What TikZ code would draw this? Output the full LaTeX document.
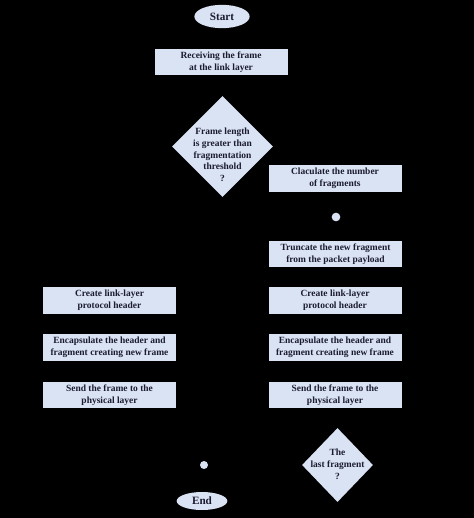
\documentclass[tikz,border=0pt]{standalone}
\usepackage{fontspec}
\setmainfont{Liberation Serif}
\usetikzlibrary{shapes.geometric,arrows.meta}
\definecolor{boxfill}{HTML}{DAE3F3}
\definecolor{txt}{HTML}{1B1B30}
\begin{document}
\begin{tikzpicture}[x=0.75pt,y=-0.75pt,
  every node/.style={font=\bfseries\fontsize{7.1}{8.8}\selectfont, text=txt, align=center},
  procbox/.style={rectangle, fill=boxfill, inner sep=0pt, minimum width=99.75pt, minimum height=20pt},
  termnode/.style={ellipse, fill=boxfill, inner sep=0pt, font=\bfseries\fontsize{8.4}{10}\selectfont},
  decnode/.style={diamond, fill=boxfill, inner sep=0pt},
  joint/.style={circle, fill=boxfill, inner sep=0pt, minimum size=6.5pt},
  link/.style={draw=black, -{Stealth[length=4pt]}, line width=0.6pt}]
\fill[black] (0,0) rectangle (474,518);
\useasboundingbox (0,0) rectangle (474,518);
% nodes
\node[termnode, minimum width=41.5pt, minimum height=17.5pt] (start) at (222,16.5) {Start};
\node[procbox] (recv) at (221,62) {Receiving the frame\\at the link layer};
\node[decnode, minimum width=75.75pt, minimum height=75.75pt] (d1) at (222.5,146.5) {};
\node (d1t) at (222.5,155) {Frame length\\is greater than\\fragmentation\\threshold\\?};
\node[procbox] (calc) at (335,178.5) {Claculate the number\\of fragments};
\node[joint] (j1) at (336,217) {};
\node[procbox] (trunc) at (335.5,254) {Truncate the new fragment\\from the packet payload};
\node[procbox] (lcreate) at (109.5,300.5) {Create link-layer\\protocol header};
\node[procbox] (lencap) at (109.5,347.5) {Encapsulate the header and\\fragment creating new frame};
\node[procbox] (lsend) at (109.5,395) {Send the frame to the\\physical layer};
\node[procbox] (rcreate) at (335,300.5) {Create link-layer\\protocol header};
\node[procbox] (rencap) at (335,347.5) {Encapsulate the header and\\fragment creating new frame};
\node[procbox] (rsend) at (335,395) {Send the frame to the\\physical layer};
\node[decnode, minimum width=53.25pt, minimum height=55.5pt] (d2) at (337.5,465) {};
\node (d2t) at (337.5,464.5) {The\\last fragment\\?};
\node[joint, minimum size=6pt] (j2) at (204,465) {};
\node[termnode, minimum width=38pt, minimum height=13.5pt] (end) at (202,501) {End};
% connectors (black, as in the reference)
\draw[link] (start) -- (recv);
\draw[link] (recv) -- (d1);
\draw[link] (d1.east) -| (calc.north);
\draw[link] (d1.west) -| (lcreate.north);
\draw[link] (calc) -- (j1);
\draw[link] (j1) -- (trunc);
\draw[link] (trunc) -- (rcreate);
\draw[link] (rcreate) -- (rencap);
\draw[link] (rencap) -- (rsend);
\draw[link] (rsend) -- (d2);
\draw[link] (d2.east) -- ++(40,0) |- (j1.east);
\draw[link] (d2.west) -- (j2);
\draw[link] (lcreate) -- (lencap);
\draw[link] (lencap) -- (lsend);
\draw[link] (lsend.south) |- (j2.west);
\draw[link] (j2) -- (end);
\end{tikzpicture}
\end{document}
